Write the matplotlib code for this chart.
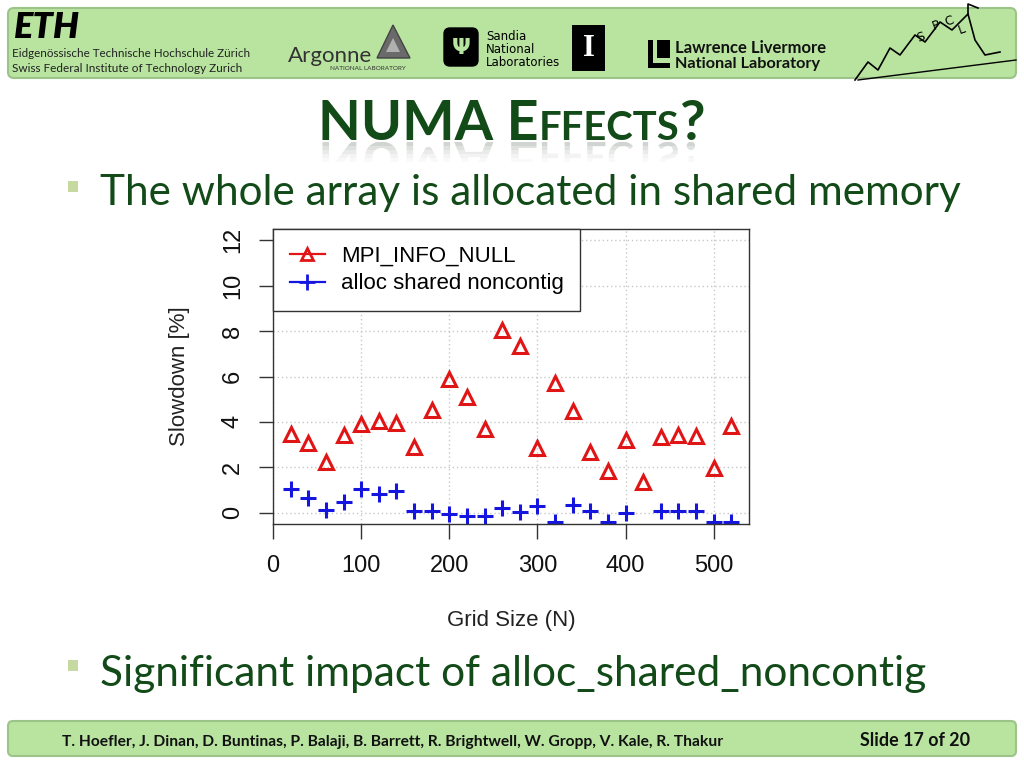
import matplotlib
matplotlib.use("Agg")
import matplotlib.pyplot as plt
from matplotlib.patches import FancyBboxPatch, Rectangle, Polygon, PathPatch
from matplotlib.lines import Line2D
from matplotlib.textpath import TextPath
from matplotlib.font_manager import FontProperties
from matplotlib.transforms import Affine2D

# ---------------- data ----------------
grid_size = [20, 40, 60, 80, 100, 120, 140, 160, 180, 200, 220, 240, 260,
             280, 300, 320, 340, 360, 380, 400, 420, 440, 460, 480, 500, 520]
mpi_info_null = [3.45, 3.06, 2.25, 3.42, 3.92, 4.02, 3.97, 2.91, 4.53, 5.89,
                 5.09, 3.68, 8.04, 7.36, 2.84, 5.71, 4.46, 2.69, 1.84, 3.21,
                 1.34, 3.33, 3.44, 3.39, 1.96, 3.80]
alloc_shared_noncontig = [1.03, 0.64, 0.12, 0.49, 1.03, 0.83, 0.96, 0.09, 0.09,
                          -0.06, -0.15, -0.15, 0.19, 0.03, 0.30, -0.41, 0.34,
                          0.07, -0.41, 0.00, -1.00, 0.09, 0.09, 0.09, -0.41, -0.40]
series_labels = ["MPI_INFO_NULL", "alloc shared noncontig"]
x_ticks = [0, 100, 200, 300, 400, 500]
y_ticks = [0, 2, 4, 6, 8, 10, 12]
x_label = "Grid Size (N)"
y_label = "Slowdown [%]"
title_parts = [("NUMA E", 1.0), ("FFECTS", 0.72), ("?", 1.0)]
bullets = ["The whole array is allocated in shared memory",
           "Significant impact of alloc_shared_noncontig"]
footer_left = ("T. Hoefler, J. Dinan, D. Buntinas, P. Balaji, B. Barrett, "
               "R. Brightwell, W. Gropp, V. Kale, R. Thakur")
footer_right = "Slide 17 of 20"

W, H = 1024, 768
fig = plt.figure(figsize=(W / 100, H / 100), dpi=100)
fig.patch.set_facecolor("white")
renderer = fig.canvas.get_renderer()

bg = fig.add_axes([0, 0, 1, 1])
bg.set_xlim(0, W)
bg.set_ylim(H, 0)
bg.axis("off")

SLIDE_FONT = ["Lato", "DejaVu Sans"]
GREEN_TXT = "#124a18"
BANNER = "#b8e4a0"
PX_PER_PT = 100 / 72


def width_of(s, size, **kw):
    t = bg.text(0, 0, s, fontsize=size, **kw)
    w = t.get_window_extent(renderer).width
    t.remove()
    return w


def fit_text(s, x0, x1, baseline, ref=20, **kw):
    size = ref * (x1 - x0) / width_of(s, ref, **kw)
    bg.text(x0, baseline, s, fontsize=size, ha="left", va="baseline", **kw)
    return size


# ---------------- banners ----------------
bg.add_patch(FancyBboxPatch((8, 8), 1008, 70, boxstyle="round,pad=0,rounding_size=6",
                            facecolor=BANNER, edgecolor="#9cc488", linewidth=1.5))
bg.add_patch(FancyBboxPatch((8, 721), 1008, 35, boxstyle="round,pad=0,rounding_size=5",
                            facecolor=BANNER, edgecolor="#9cc488", linewidth=1.5))

# header logos (text approximations)
fit_text("ETH", 14, 80, 38, family=SLIDE_FONT, weight="heavy", style="italic", color="black")
fit_text("Eidgenössische Technische Hochschule Zürich", 12, 248, 57,
         family=SLIDE_FONT, color="#222222")
fit_text("Swiss Federal Institute of Technology Zurich", 12, 241, 72,
         family=SLIDE_FONT, color="#222222")
fit_text("Argonne", 288, 372, 62, family=SLIDE_FONT, color="#333333")
fit_text("NATIONAL LABORATORY", 330, 405, 70, family=SLIDE_FONT, color="#333333")
bg.add_patch(Polygon([[393, 25], [377, 58], [410, 58]], closed=True,
                     facecolor="#6a6a6a", edgecolor="#444444"))
bg.add_patch(Polygon([[393, 38], [386, 52], [400, 52]], closed=True,
                     facecolor="#b0b0b0", edgecolor="none"))
bg.add_patch(FancyBboxPatch((444, 28), 34, 38, boxstyle="round,pad=0,rounding_size=6",
                            facecolor="black", edgecolor="black"))
bg.text(461, 48, "Ψ", color=BANNER, fontsize=16, ha="center", va="center", weight="bold")
for s, yb in [("Sandia", 40), ("National", 53), ("Laboratories", 66)]:
    bg.text(486, yb, s, fontsize=8.5, family=["Liberation Sans Narrow", "DejaVu Sans"],
            ha="left", va="baseline", color="black")
bg.add_patch(Rectangle((572, 25), 33, 46, facecolor="black"))
bg.text(588.5, 48, "I", fontsize=22, family=["Liberation Serif"], color="white",
        ha="center", va="center", weight="bold")
bg.add_patch(Rectangle((648, 40), 5, 28, facecolor="black"))
bg.add_patch(Rectangle((648, 63), 22, 5, facecolor="black"))
bg.add_patch(Rectangle((657, 40), 13, 18, facecolor="black"))
fit_text("Lawrence Livermore", 675, 826, 53, family=SLIDE_FONT, weight="bold", color="#111111")
fit_text("National Laboratory", 675, 820, 68, family=SLIDE_FONT, weight="bold", color="#111111")
bg.plot([855, 868, 878, 890, 900, 915, 925, 940, 952, 968, 975, 985, 1000],
        [80, 62, 70, 48, 55, 35, 42, 22, 30, 14, 40, 55, 52], color="black", lw=1.2)
bg.plot([858, 1016], [80, 60], color="black", lw=1.0)
bg.plot([968, 968, 978], [14, 4, 8], color="black", lw=1.2)
bg.text(915, 42, "S", fontsize=9, color="black", rotation=20)
bg.text(930, 30, "P", fontsize=9, color="black", rotation=20)
bg.text(943, 26, "C", fontsize=9, color="black", rotation=20)
bg.text(956, 34, "L", fontsize=9, color="black", rotation=20)

# ---------------- title (small caps) with reflection ----------------
ref = 40
tw = [width_of(s, ref * f, family=SLIDE_FONT, weight="bold") for s, f in title_parts]
scale = (705 - 318) / sum(tw)
x = 318
base_y = 140
fp = FontProperties(family=SLIDE_FONT, weight="bold")
for (s, f), w in zip(title_parts, tw):
    size = ref * f * scale
    bg.text(x, base_y, s, fontsize=size, family=SLIDE_FONT, weight="bold",
            color=GREEN_TXT, ha="left", va="baseline", zorder=3)
    tp = TextPath((0, 0), s, size=size, prop=fp)
    tr = Affine2D().scale(PX_PER_PT).translate(x, base_y + 2) + bg.transData
    for k, a in enumerate([0.28, 0.2, 0.13, 0.08, 0.04]):
        patch = PathPatch(tp, transform=tr, facecolor="#5a6a5a", edgecolor="none",
                          alpha=a, zorder=2)
        bg.add_patch(patch)
        clip = Rectangle((300, base_y + 2 + 4 * k), 420, 4, transform=bg.transData)
        patch.set_clip_path(clip)
    x += w * scale

# bullets
for text, x1, yb, ysq in [(bullets[0], 962, 205, 181), (bullets[1], 928, 686, 660)]:
    bg.add_patch(Rectangle((68, ysq), 10, 11, facecolor="#c5d9a0", edgecolor="none"))
    fit_text(text, 100, x1, yb, family=SLIDE_FONT, color=GREEN_TXT)

# footer
fit_text(footer_left, 62, 727, 746, family=SLIDE_FONT, weight="bold", color="#111111")
fit_text(footer_right, 860, 970, 746, family=SLIDE_FONT, weight="bold", color="#111111")

# ---------------- chart ----------------
CH_FONT = ["Liberation Sans", "DejaVu Sans"]
ax = fig.add_axes([273 / W, 1 - 524 / H, (749 - 273) / W, (524 - 229) / H])
ax.set_facecolor("white")
ax.set_xlim(0, 540)
ax.set_ylim(-0.5, 12.5)
ax.set_xticks(x_ticks)
ax.set_yticks(y_ticks)
ax.set_xticklabels([str(v) for v in x_ticks], fontsize=17, family=CH_FONT, color="#111111")
ax.set_yticklabels([str(v) for v in y_ticks], fontsize=17, family=CH_FONT,
                   rotation=90, va="center", color="#111111")
ax.tick_params(axis="x", length=11, width=1, pad=11, color="#333333")
ax.tick_params(axis="y", length=10, width=1, pad=11, color="#333333")
ax.grid(True, color="#c8c8c8", linestyle=(0, (1, 2)), linewidth=1)
ax.set_axisbelow(True)
for sp in ax.spines.values():
    sp.set_color("#333333")
    sp.set_linewidth(1)

RED = "#e01515"
BLUE = "#1515e0"
ax.plot(grid_size, mpi_info_null, linestyle="none", marker="^", markersize=10,
        markerfacecolor="none", markeredgecolor=RED, markeredgewidth=2.2)
ax.plot(grid_size, alloc_shared_noncontig, linestyle="none", marker="+",
        markersize=12, markeredgecolor=BLUE, markeredgewidth=2.2)

ax.set_xlabel(x_label, fontsize=16, family=CH_FONT, labelpad=24, color="#222222")
ax.set_ylabel(y_label, fontsize=16, family=CH_FONT, labelpad=23, color="#222222")

handles = [Line2D([], [], color=RED, lw=1.6, marker="^", markersize=8,
                  markerfacecolor="none", markeredgecolor=RED, markeredgewidth=2),
           Line2D([], [], color=BLUE, lw=1.6, marker="+", markersize=11,
                  markeredgecolor=BLUE, markeredgewidth=2)]
leg = ax.legend(handles, series_labels, loc="upper left", bbox_to_anchor=(0, 1),
                borderaxespad=0, fancybox=False, framealpha=1, edgecolor="#333333",
                prop={"family": CH_FONT, "size": 16}, handlelength=1.6,
                handletextpad=0.7, borderpad=0.75, labelspacing=0.3)
leg.get_frame().set_linewidth(1)

fig.savefig("out.png", dpi=100)
